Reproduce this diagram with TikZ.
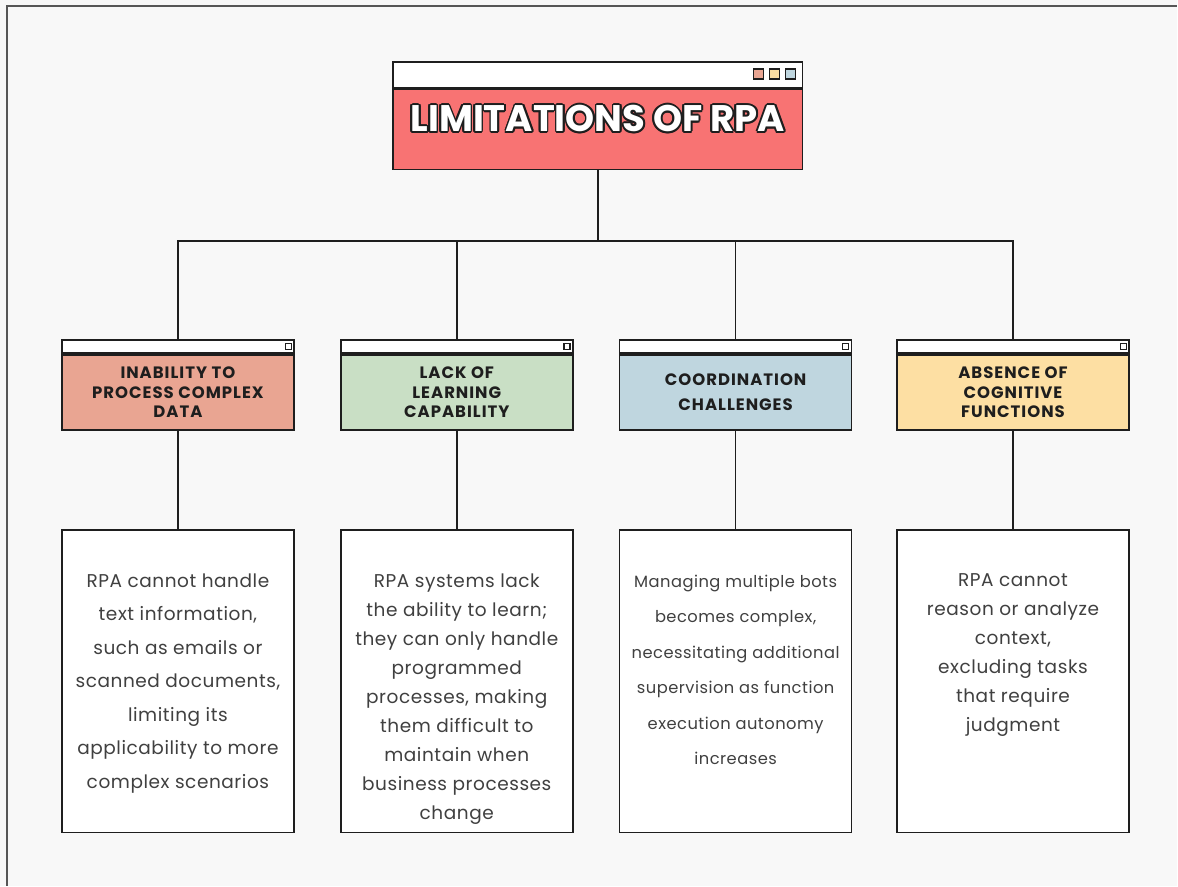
\documentclass[tikz,border=0pt]{standalone}
\usepackage{fontspec}
\setmainfont{Poppins}
\usepackage{contour}
\contourlength{1.8pt}
\contournumber{12}
\usetikzlibrary{positioning}
\definecolor{ink}{HTML}{1E1E1E}
\definecolor{paper}{HTML}{F8F8F8}
\definecolor{rpared}{HTML}{F87373}
\definecolor{salmon}{HTML}{E9A592}
\definecolor{sage}{HTML}{C9DFC5}
\definecolor{sky}{HTML}{BFD6DF}
\definecolor{sand}{HTML}{FDDFA3}

\begin{document}
\begin{tikzpicture}[x=1pt, y=-1pt, line width=1.6pt,
	win/.style={draw=ink, line width=1.6pt, minimum width=232pt, inner sep=0pt, align=center},
	winbar/.style={win, fill=white, minimum height=13pt},
	catbox/.style={win, minimum height=75pt, text=ink,
		font=\fontsize{16.5}{19.5}\selectfont\bfseries\addfontfeature{LetterSpace=6}},
	descbox/.style={win, fill=white, minimum height=303pt},
	desctext/.style={align=center, inner sep=0pt, text=ink!85},
	dot/.style={draw=ink, line width=1.1pt, minimum size=6pt, inner sep=0pt, fill=white},
	bigdot/.style={draw=ink, line width=1.1pt, minimum size=10pt, inner sep=0pt}
	]
% paper
\fill[paper] (0,0) rectangle (1178,886);
\draw[ink!75, line width=1.2pt] (7,886) -- (7,6) -- (1178,6);
\useasboundingbox (0,0) rectangle (1178,886);

% title window
\node[win, fill=white, minimum width=410pt, minimum height=26pt] (th) at (598,75) {};
\node[win, fill=rpared, minimum width=410pt, minimum height=80pt, below=0pt of th] (tb) {};
\node[text=white, font=\fontsize{37}{42}\selectfont\bfseries] (tt) at ([yshift=10pt]tb.center)
	{\contour{ink}{LIMITATIONS OF RPA}};
\node[bigdot, fill=salmon] (s1) at (759,74) {};
\node[bigdot, fill=sand]   (s2) [right=5pt of s1] {};
\node[bigdot, fill=sky]    (s3) [right=5pt of s2] {};

% categories
\node[catbox, fill=salmon] (c1) at (178,392.5) {INABILITY TO\\PROCESS COMPLEX\\DATA};
\node[catbox, fill=sage]   (c2) at (457,392.5) {LACK OF\\LEARNING\\CAPABILITY};
\node[catbox, fill=sky, font=\fontsize{16.5}{24.5}\selectfont\bfseries\addfontfeature{LetterSpace=6}]
	(c3) at (736,392.5) {COORDINATION\\CHALLENGES};
\node[catbox, fill=sand]   (c4) at (1013.5,392.5) {ABSENCE OF\\COGNITIVE\\FUNCTIONS};
\foreach \i in {1,...,4}{
	\node[winbar, above=0pt of c\i] (h\i) {};
	\node[dot, left=3pt of h\i.east] (i\i) {};
}

% descriptions
\node[descbox] (d1) at (178,681.5) {};
\node[descbox] (d2) at (457,681.5) {};
\node[descbox] (d3) at (736,681.5) {};
\node[descbox] (d4) at (1013.5,681.5) {};
\node[desctext, font=\fontsize{18.5}{33.5}\selectfont\addfontfeature{LetterSpace=3}, below=44pt of d1.north] (t1)
	{RPA cannot handle\\text information,\\such as emails or\\scanned documents,\\limiting its\\applicability to more\\complex scenarios};
\node[desctext, font=\fontsize{18.5}{29}\selectfont\addfontfeature{LetterSpace=3}, below=44pt of d2.north] (t2)
	{RPA systems lack\\the ability to learn;\\they can only handle\\programmed\\processes, making\\them difficult to\\maintain when\\business processes\\change};
\node[desctext, font=\fontsize{16.3}{35.5}\selectfont\addfontfeature{LetterSpace=3}, below=45pt of d3.north] (t3)
	{Managing multiple bots\\becomes complex,\\necessitating additional\\supervision as function\\execution autonomy\\increases};
\node[desctext, font=\fontsize{18.5}{29}\selectfont\addfontfeature{LetterSpace=3}, below=44pt of d4.north] (t4)
	{RPA cannot\\reason or analyze\\context,\\excluding tasks\\that require\\judgment};

% connectors
\coordinate (bus) at (598,241);
\draw[ink] (tb.south) -- (bus);
\foreach \i in {1,...,4}{
	\draw[ink] (h\i.north) |- (bus);
	\draw[ink] (c\i.south) -- (d\i.north);
}
\end{tikzpicture}
\end{document}
